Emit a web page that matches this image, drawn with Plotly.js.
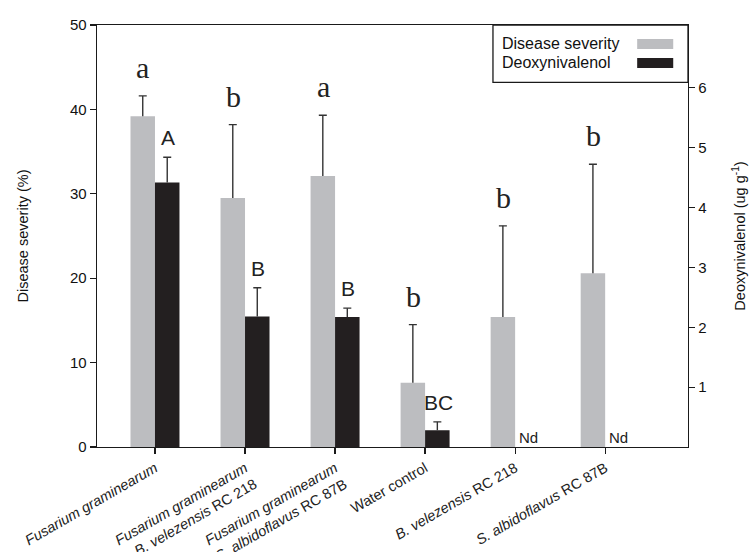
<!DOCTYPE html>
<html>
<head>
<meta charset="utf-8">
<script src="https://cdn.plot.ly/plotly-3.0.1.min.js"></script>
<style>
html,body{margin:0;padding:0;background:#fff;}
#chart{width:752px;height:552px;}
</style>
</head>
<body>
<div id="chart"></div>
<script>
// ---- data ----
const categories = [
  "<i>Fusarium graminearum</i>",
  "<i>Fusarium graminearum</i><br>+ <i>B. velezensis</i> RC 218",
  "<i>Fusarium graminearum</i><br>+ <i>S. albidoflavus</i> RC 87B",
  "Water control",
  "<i>B. velezensis</i> RC 218",
  "<i>S. albidoflavus</i> RC 87B"
];
const severity = [39.2, 29.5, 32.1, 7.6, 15.4, 20.6];
const severityErr = [2.4, 8.7, 7.2, 6.9, 10.8, 12.9];
const don = [4.42, 2.18, 2.17, 0.28, 0, 0];
const donErr = [0.42, 0.48, 0.15, 0.14, 0, 0];
const severityLetters = ["a", "b", "a", "b", "b", "b"];
const donLetters = ["A", "B", "B", "BC", "Nd", "Nd"];
const seriesNames = ["Disease severity", "Deoxynivalenol"];
const severityTicks = [0, 10, 20, 30, 40, 50];
const donTicks = [1, 2, 3, 4, 5, 6];

// ---- styles ----
const GRAY = "#bcbdc0";
const BLACK = "#231f20";
const AXIS = "#1a1a1a";
const ERR = "#333";
const SANS = "Liberation Sans, Arial, sans-serif";
const SERIF = "Liberation Serif, Times New Roman, serif";

// error stick (no caps) on the data bars
function stick(err, vals) {
  return {type: "data", symmetric: false, array: err, arrayminus: vals.map(() => 0),
          color: ERR, thickness: 1.4, width: 0};
}
// top cap only: zero-height transparent bars placed at value + error
function capTrace(vals, err, yaxis, group) {
  const has = vals.map((v, i) => v > 0 && err[i] > 0);
  return {
    type: "bar", x: categories,
    y: vals.map((v, i) => has[i] ? 0 : null),
    base: vals.map((v, i) => has[i] ? v + err[i] : null),
    xaxis: "x", yaxis: yaxis, alignmentgroup: "g", offsetgroup: group,
    marker: {color: "rgba(0,0,0,0)"},
    error_y: {type: "data", symmetric: true, array: vals.map(() => 0),
              color: ERR, thickness: 1.4, width: 4},
    showlegend: false, hoverinfo: "skip"
  };
}

const traces = [
  {
    type: "bar", name: seriesNames[0], x: categories, y: severity,
    xaxis: "x", yaxis: "y", alignmentgroup: "g", offsetgroup: "1",
    marker: {color: GRAY}, error_y: stick(severityErr, severity),
    showlegend: false, hoverinfo: "skip"
  },
  {
    type: "bar", name: seriesNames[1], x: categories, y: don,
    xaxis: "x", yaxis: "y2", alignmentgroup: "g", offsetgroup: "2",
    marker: {color: BLACK}, error_y: stick(donErr, don),
    showlegend: false, hoverinfo: "skip"
  },
  capTrace(severity, severityErr, "y", "1"),
  capTrace(don, donErr, "y2", "2")
];

const annotations = [];
categories.forEach((c, i) => {
  annotations.push({
    x: c, xref: "x", y: severity[i] + severityErr[i], yref: "y",
    text: severityLetters[i], showarrow: false, xanchor: "center", yanchor: "bottom",
    xshift: -12, yshift: 10, font: {family: SERIF, size: 30, color: "#222"}
  });
  if (don[i] > 0) {
    annotations.push({
      x: c, xref: "x", y: don[i] + donErr[i], yref: "y2",
      text: donLetters[i], showarrow: false, xanchor: "center", yanchor: "bottom",
      xshift: 13, yshift: 6, font: {family: SANS, size: 21, color: "#222"}
    });
  } else {
    annotations.push({
      x: c, xref: "x", y: 0, yref: "y2",
      text: donLetters[i], showarrow: false, xanchor: "left", yanchor: "bottom",
      xshift: 2, yshift: -1, font: {family: SANS, size: 15, color: "#222"}
    });
  }
});

// custom legend (text left, swatch right)
const legendRows = [0.955, 0.910];
const legendColors = [GRAY, BLACK];
const shapes = [
  {type: "rect", xref: "paper", yref: "paper", x0: 0.670, x1: 1, y0: 0.864, y1: 1,
   line: {color: AXIS, width: 1.3}, fillcolor: "rgba(0,0,0,0)"}
];
seriesNames.forEach((n, k) => {
  annotations.push({
    xref: "paper", yref: "paper", x: 0.682, y: legendRows[k], text: n,
    showarrow: false, xanchor: "left", yanchor: "middle",
    font: {family: SANS, size: 16, color: "#111"}
  });
  shapes.push({
    type: "rect", xref: "paper", yref: "paper",
    x0: 0.914, x1: 0.975, y0: legendRows[k] - 0.012, y1: legendRows[k] + 0.012,
    line: {width: 0}, fillcolor: legendColors[k]
  });
});

const layout = {
  width: 752, height: 552,
  margin: {l: 97, r: 64, t: 25, b: 105},
  paper_bgcolor: "#fff", plot_bgcolor: "#fff",
  barmode: "group", bargap: 0.456, bargroupgap: 0,
  showlegend: false,
  font: {family: SANS, color: "#111"},
  xaxis: {
    type: "category", range: [-0.644, 5.92],
    showline: true, linecolor: AXIS, linewidth: 1.3, mirror: true,
    ticks: "outside", ticklen: 6, tickcolor: AXIS, tickwidth: 1.2,
    tickangle: -30, tickfont: {family: SANS, size: 14.5, color: "#222"},
    showgrid: false, zeroline: false, automargin: false
  },
  yaxis: {
    range: [0, 50], tickvals: severityTicks,
    showline: true, linecolor: AXIS, linewidth: 1.3,
    ticks: "outside", ticklen: 6, tickcolor: AXIS, tickwidth: 1.2,
    tickfont: {family: SANS, size: 15, color: "#111"},
    showgrid: false, zeroline: false, automargin: false,
    title: {text: "Disease severity (%)", font: {family: SANS, size: 14.5, color: "#111"}, standoff: 38}
  },
  yaxis2: {
    overlaying: "y", side: "right", anchor: "x",
    range: [0, 7.05], tickvals: donTicks,
    showline: true, linecolor: AXIS, linewidth: 1.3,
    ticks: "outside", ticklen: 6, tickcolor: AXIS, tickwidth: 1.2,
    tickfont: {family: SANS, size: 15, color: "#111"},
    showgrid: false, zeroline: false, automargin: false,
    title: {text: "Deoxynivalenol (ug g<sup>-1</sup>)", font: {family: SANS, size: 14.5, color: "#111"}, standoff: 29}
  },
  annotations: annotations,
  shapes: shapes
};

Plotly.newPlot("chart", traces, layout, {displayModeBar: false, staticPlot: true});
</script>
</body>
</html>
